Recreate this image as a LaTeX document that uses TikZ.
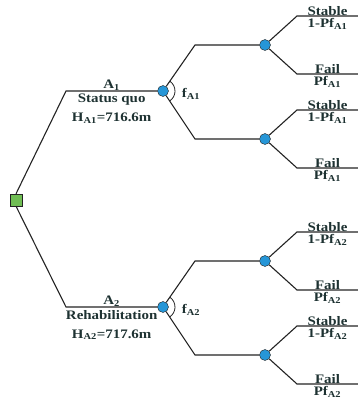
\documentclass[tikz,border=0pt]{standalone}
\usepackage{fontspec}
\setmainfont[FakeStretch=1.15]{Liberation Serif}
\usepackage{tikz}
\usetikzlibrary{positioning}
\definecolor{linecolor}{RGB}{35,35,35}
\definecolor{textcolor}{RGB}{30,50,50}
\definecolor{decisioncolor}{RGB}{112,190,84}
\definecolor{chancecolor}{RGB}{38,150,215}
\newcommand{\subA}[1]{\textsubscript{A#1}}

\begin{document}
\begin{tikzpicture}[
      % GLOBAL CFG
      x=1pt, y=1pt,
      font=\fontsize{13}{15}\selectfont\bfseries,
      % Styles
      decision/.style={% For the decision node
        rectangle,
        draw=linecolor,
        fill=decisioncolor,
        minimum size=12pt,
        inner sep=0pt
      },
      chance/.style={% For chance nodes
        circle,
        draw=linecolor,
        fill=chancecolor,
        minimum size=11pt,
        inner sep=0pt
      },
      branch/.style={% Branch lines
        draw=linecolor,
        line width=1.1pt
      },
      lab/.style={% Texts
        text=textcolor,
        inner sep=1pt,
        align=center
      }
      ]

      \useasboundingbox (0,0) rectangle (358,405);

      % Nodes
      \node [decision] (decision) at (16,205) {};

      \node [chance] (choice1) at (163,314) {};
      \node [chance] (choice2) at (163,98) {};

      \node [chance] (chance11) at (265,360) {};
      \node [chance] (chance12) at (265,266) {};
      \node [chance] (chance21) at (265,144) {};
      \node [chance] (chance22) at (265,50) {};

      % Corners of the branches
      \coordinate (bend1) at (66,314);
      \coordinate (bend2) at (66,98);

      \coordinate (bend11) at (195,360);
      \coordinate (bend12) at (195,266);
      \coordinate (bend21) at (195,144);
      \coordinate (bend22) at (195,50);

      \coordinate (up11) at (297,389);   \coordinate (end11s) at (358,389);
      \coordinate (down11) at (297,331); \coordinate (end11f) at (358,331);
      \coordinate (up12) at (297,295);   \coordinate (end12s) at (358,295);
      \coordinate (down12) at (297,237); \coordinate (end12f) at (358,237);
      \coordinate (up21) at (297,173);   \coordinate (end21s) at (358,173);
      \coordinate (down21) at (297,115); \coordinate (end21f) at (358,115);
      \coordinate (up22) at (297,79);    \coordinate (end22s) at (358,79);
      \coordinate (down22) at (297,21);  \coordinate (end22f) at (358,21);

      % Alternatives
      \draw [branch] (decision.north) -- (bend1)
        -- node [lab, above, inner sep=0pt] (alt1) {A\textsubscript{1}}
           node [lab, below, inner sep=2.5pt] (info1) {Status quo\\[4pt]H\subA{1}=716.6m} (choice1);
      \draw [branch] (decision.south) -- (bend2)
        -- node [lab, above, inner sep=0pt] (alt2) {A\textsubscript{2}}
           node [lab, below, inner sep=2.5pt] (info2) {Rehabilitation\\[4pt]H\subA{2}=717.6m} (choice2);

      \draw [branch] (choice1) -- (bend11) -- (chance11);
      \draw [branch] (choice1) -- (bend12) -- (chance12);
      \draw [branch] (choice2) -- (bend21) -- (chance21);
      \draw [branch] (choice2) -- (bend22) -- (chance22);

      % Angle marks
      \draw [branch, line width=0.8pt] (choice1) ++(56:12) arc (56:-56:12);
      \draw [branch, line width=0.8pt] (choice2) ++(56:12) arc (56:-56:12);
      \node [lab] (f1) at (191,311) {f\subA{1}};
      \node [lab] (f2) at (191,95) {f\subA{2}};

      % Outcomes
      \draw [branch] (chance11) -- (up11) -- node [lab, above, inner sep=0pt] (s11) {Stable}
        node [lab, below, inner sep=2pt] (ps11) {1-Pf\subA{1}} (end11s);
      \draw [branch] (chance11) -- (down11) -- node [lab, above, inner sep=0pt] (f11) {Fail}
        node [lab, below, inner sep=2pt] (pf11) {Pf\subA{1}} (end11f);
      \draw [branch] (chance12) -- (up12) -- node [lab, above, inner sep=0pt] (s12) {Stable}
        node [lab, below, inner sep=2pt] (ps12) {1-Pf\subA{1}} (end12s);
      \draw [branch] (chance12) -- (down12) -- node [lab, above, inner sep=0pt] (f12) {Fail}
        node [lab, below, inner sep=2pt] (pf12) {Pf\subA{1}} (end12f);
      \draw [branch] (chance21) -- (up21) -- node [lab, above, inner sep=0pt] (s21) {Stable}
        node [lab, below, inner sep=2pt] (ps21) {1-Pf\subA{2}} (end21s);
      \draw [branch] (chance21) -- (down21) -- node [lab, above, inner sep=0pt] (f21) {Fail}
        node [lab, below, inner sep=2pt] (pf21) {Pf\subA{2}} (end21f);
      \draw [branch] (chance22) -- (up22) -- node [lab, above, inner sep=0pt] (s22) {Stable}
        node [lab, below, inner sep=2pt] (ps22) {1-Pf\subA{2}} (end22s);
      \draw [branch] (chance22) -- (down22) -- node [lab, above, inner sep=0pt] (f22) {Fail}
        node [lab, below, inner sep=2pt] (pf22) {Pf\subA{2}} (end22f);
    \end{tikzpicture}
\end{document}
